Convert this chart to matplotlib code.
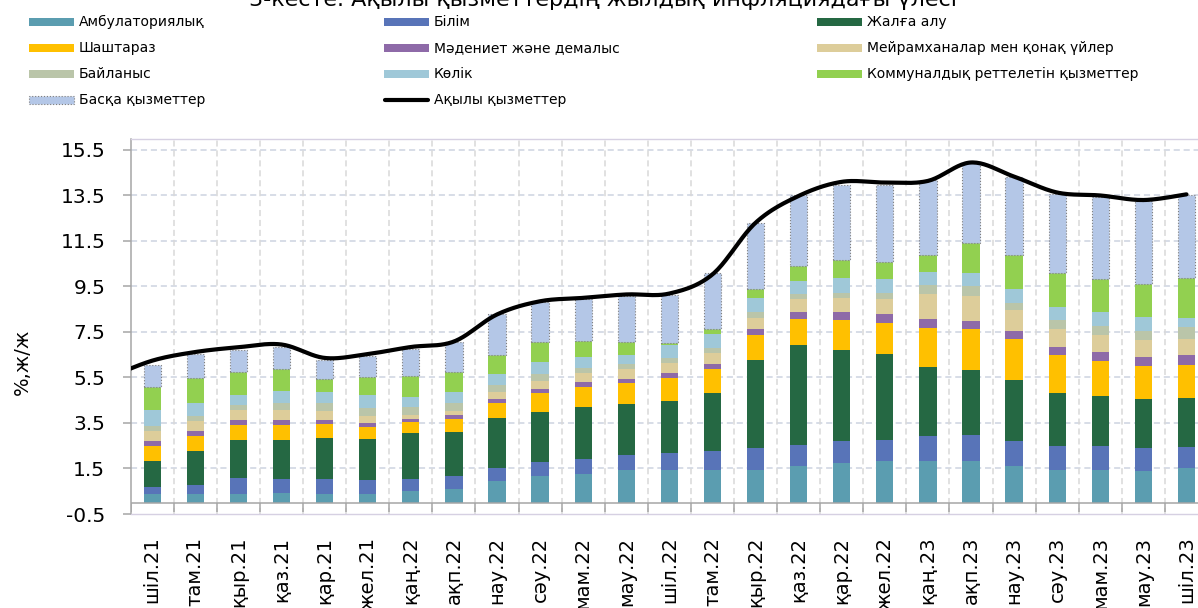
import numpy as np
import matplotlib
matplotlib.use("Agg")
import matplotlib.pyplot as plt
from matplotlib.patches import Rectangle
from matplotlib.lines import Line2D

plt.rcParams['font.family'] = ['DejaVu Sans']

W, H = 1198, 608

title = "3-кесте. Ақылы қызметтердің жылдық инфляциядағы үлесі"

months = ["шіл.21", "там.21", "қыр.21", "қаз.21", "қар.21", "жел.21",
          "қаң.22", "ақп.22", "нау.22", "сәу.22", "мам.22", "мау.22",
          "шіл.22", "там.22", "қыр.22", "қаз.22", "қар.22", "жел.22",
          "қаң.23", "ақп.23", "нау.23", "сәу.23", "мам.23", "мау.23", "шіл.23"]

series_names = ["Амбулаториялық", "Білім", "Жалға алу", "Шаштараз",
                "Мәдениет және демалыс", "Мейрамханалар мен қонақ үйлер",
                "Байланыс", "Көлік", "Коммуналдық реттелетін қызметтер",
                "Басқа қызметтер"]
line_name = "Ақылы қызметтер"

ambulatory = [0.37, 0.40, 0.40, 0.41, 0.40, 0.37, 0.50, 0.62, 0.93, 1.15, 1.25, 1.42, 1.45,
              1.45, 1.45, 1.59, 1.72, 1.81, 1.84, 1.81, 1.59, 1.45, 1.45, 1.37, 1.50]
education = [0.32, 0.37, 0.68, 0.65, 0.65, 0.62, 0.54, 0.54, 0.57, 0.62, 0.66, 0.69, 0.75,
             0.81, 0.93, 0.93, 0.97, 0.93, 1.07, 1.15, 1.12, 1.06, 1.03, 1.01, 0.93]
rent = [1.15, 1.50, 1.69, 1.69, 1.81, 1.81, 2.01, 1.95, 2.22, 2.23, 2.31, 2.22, 2.26,
        2.56, 3.88, 4.39, 4.01, 3.80, 3.04, 2.89, 2.69, 2.32, 2.20, 2.19, 2.19]
hairdresser = [0.67, 0.66, 0.65, 0.66, 0.59, 0.51, 0.50, 0.56, 0.66, 0.82, 0.87, 0.91, 1.00,
               1.04, 1.12, 1.16, 1.31, 1.37, 1.72, 1.78, 1.81, 1.67, 1.54, 1.45, 1.44]
culture = [0.21, 0.22, 0.21, 0.21, 0.18, 0.18, 0.12, 0.18, 0.18, 0.19, 0.21, 0.21, 0.22,
           0.23, 0.26, 0.32, 0.38, 0.40, 0.41, 0.37, 0.35, 0.35, 0.40, 0.38, 0.41]
restaurants = [0.42, 0.44, 0.43, 0.46, 0.40, 0.31, 0.18, 0.16, 0.29, 0.35, 0.40, 0.41, 0.44,
               0.47, 0.48, 0.57, 0.60, 0.63, 1.10, 1.09, 0.91, 0.78, 0.75, 0.76, 0.70]
communication = [0.24, 0.21, 0.23, 0.32, 0.35, 0.35, 0.34, 0.38, 0.31, 0.28, 0.21, 0.23, 0.22,
                 0.25, 0.28, 0.21, 0.23, 0.29, 0.37, 0.41, 0.32, 0.40, 0.41, 0.37, 0.53]
transport = [0.67, 0.56, 0.43, 0.50, 0.48, 0.59, 0.46, 0.47, 0.48, 0.53, 0.48, 0.40, 0.59,
             0.59, 0.59, 0.59, 0.66, 0.62, 0.59, 0.60, 0.62, 0.57, 0.60, 0.62, 0.41]
utilities = [1.04, 1.13, 1.03, 0.97, 0.56, 0.78, 0.90, 0.88, 0.85, 0.87, 0.72, 0.56, 0.10,
             0.21, 0.38, 0.62, 0.79, 0.72, 0.75, 1.32, 1.48, 1.51, 1.47, 1.47, 1.76]
other = [0.96, 1.04, 0.98, 0.95, 0.87, 0.94, 1.22, 1.34, 1.81, 1.79, 1.85, 2.01, 2.10,
         2.47, 2.92, 3.16, 3.30, 3.39, 3.29, 3.49, 3.44, 3.45, 3.58, 3.63, 3.67]

# total paid services, plus the June-21 value the curve comes in from
paid_prev = 5.5
paid_total = [6.24, 6.62, 6.83, 6.95, 6.36, 6.53, 6.84, 7.08, 8.27, 8.85, 9.00, 9.15, 9.19,
              10.03, 12.30, 13.48, 14.10, 14.07, 14.14, 14.95, 14.33, 13.63, 13.50, 13.30, 13.55]

colors = ["#5B9DB0", "#5874B8", "#256843", "#FFC000", "#8E6AA8",
          "#DDCD9A", "#BAC5A9", "#9FC8D8", "#92D050", "#B4C7E7"]

yticks = np.arange(-0.5, 16, 2)


def smooth(xs, ys, n=24):
    # excel-like smoothed line (catmull-rom)
    P = np.column_stack([xs, ys]).astype(float)
    out = []
    for i in range(len(P) - 1):
        p0 = P[max(i - 1, 0)]
        p1 = P[i]
        p2 = P[i + 1]
        p3 = P[min(i + 2, len(P) - 1)]
        m1 = (p2 - p0) / 2
        m2 = (p3 - p1) / 2
        t = np.linspace(0, 1, n)[:, None]
        h00 = 2*t**3 - 3*t**2 + 1
        h10 = t**3 - 2*t**2 + t
        h01 = -2*t**3 + 3*t**2
        h11 = t**3 - t**2
        out.append(h00*p1 + h10*m1 + h01*p2 + h11*m2)
    pts = np.vstack(out)
    return pts[:, 0], pts[:, 1]


def fx(px):
    return px / W


def fy(py):
    return 1 - py / H


fig = plt.figure(figsize=(W / 100, H / 100), dpi=100)
ax = fig.add_axes([fx(130.7), fy(514), fx(1208) - fx(130.7), fy(138.6) - fy(514)])

x = np.arange(len(months))
series = [ambulatory, education, rent, hairdresser, culture, restaurants,
          communication, transport, utilities, other]

bottom = np.zeros(len(months))
bars = []
for name, vals, c in zip(series_names, series, colors):
    if name == "Басқа қызметтер":
        b = ax.bar(x, vals, 0.4, bottom=bottom, color=c, edgecolor="#7F7F7F",
                   linewidth=0.8, linestyle=":", zorder=3)
    else:
        b = ax.bar(x, vals, 0.4, bottom=bottom, color=c, edgecolor="none", zorder=3)
    bars.append(b)
    bottom += np.array(vals)

lx, ly = smooth(np.concatenate([[-1], x]), np.concatenate([[paid_prev], paid_total]))
ax.plot(lx, ly, color="black", lw=3, solid_capstyle="round", zorder=5)

ax.set_xlim(-0.5, len(months) - 0.5)
ax.set_ylim(-0.5, 16)

# grid
for yv in yticks[1:]:
    ax.axhline(yv, color="#CDD3E0", lw=1.1, ls=(0, (4, 2.5)), zorder=0)
for bv in np.arange(0.5, len(months) - 0.5, 1):
    ax.axvline(bv, color="#D9D9D9", lw=1.1, ls=(0, (4, 2.5)), zorder=0)

# category axis at zero
ax.axhline(0, color="#A6A6A6", lw=1.1, zorder=4)
ax.vlines(np.arange(-0.5, len(months), 1), -0.43, 0, color="#A6A6A6", lw=1.1, zorder=4)

for s in ["top", "bottom", "right"]:
    ax.spines[s].set_color("#D6D0E2")
    ax.spines[s].set_linewidth(1.0)
ax.spines["left"].set_color("#A6A6A6")
ax.spines["left"].set_linewidth(1.1)

ax.set_yticks(yticks)
ax.set_yticklabels([f"{v:.1f}" for v in yticks])
ax.tick_params(axis="y", direction="out", length=5.8, width=1.1, color="#A6A6A6",
               pad=12.5, labelsize=14.5, labelcolor="black")
ax.set_xticks(x)
ax.set_xticklabels(months, rotation=90)
ax.tick_params(axis="x", length=0, pad=16.3, labelsize=14, labelcolor="black")

fig.text(fx(22), fy(362), "%,ж/ж", rotation=90, ha="center", va="center", fontsize=14)
fig.text(fx(603), fy(6), title, ha="center", va="baseline", fontsize=16)

# legend, laid out like the original (row-major, 3 columns)
col_x = [29, 384, 817]
row_y = [22, 48, 74, 100]
entries = list(zip(series_names, colors)) + [(line_name, None)]
for i, (name, c) in enumerate(entries):
    cx = col_x[i % 3]
    cy = row_y[i // 3]
    if c is None:
        fig.add_artist(Line2D([fx(cx + 1), fx(cx + 44)], [fy(cy), fy(cy)], color="black",
                              lw=3, solid_capstyle="round"))
    elif name == "Басқа қызметтер":
        fig.add_artist(Rectangle((fx(cx), fy(cy + 4)), fx(45), 8 / H, facecolor=c,
                                 edgecolor="#7F7F7F", lw=0.8, ls=":"))
    else:
        fig.add_artist(Rectangle((fx(cx), fy(cy + 4)), fx(45), 8 / H, facecolor=c,
                                 edgecolor="none"))
    fig.text(fx(cx + 50), fy(cy), name, ha="left", va="center", fontsize=10)

fig.savefig("out.png", dpi=100)
